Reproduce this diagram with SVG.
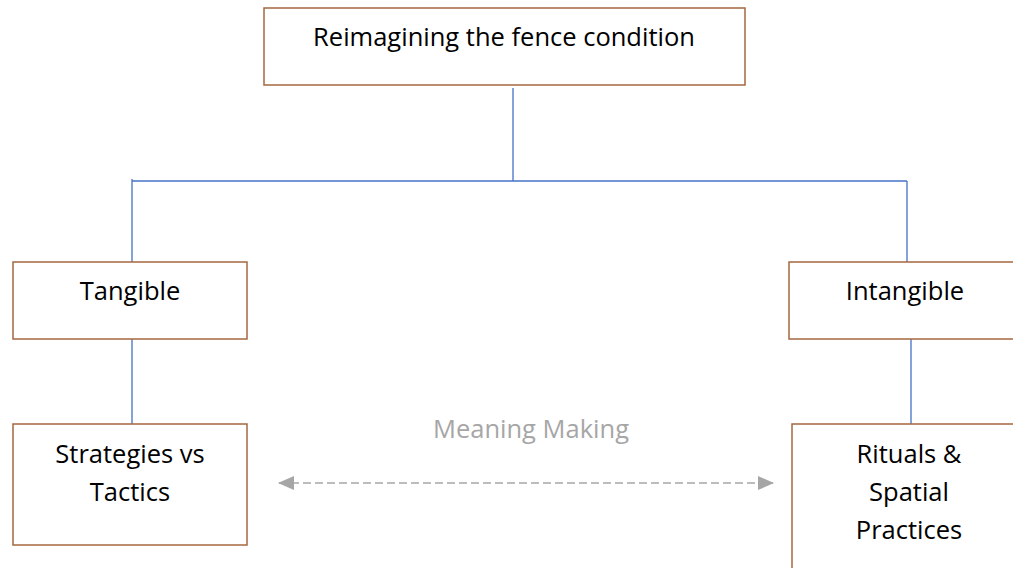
<svg xmlns="http://www.w3.org/2000/svg" width="1013" height="568" viewBox="0 0 1013 568">
<defs>
<style>
.box{fill:#fff;stroke:#A5683F;stroke-width:1.5}
.t{font-family:"Open Sans","Noto Sans",sans-serif;font-size:25.5px;fill:#000;text-anchor:middle}
.c{stroke:#4472C4;stroke-width:1.3;fill:none}
.mm{font-family:"Open Sans","Noto Sans",sans-serif;font-size:25.5px;fill:#A6A6A6;text-anchor:middle}
.ar{stroke:#A6A6A6;stroke-width:1.5;stroke-dasharray:8 4;fill:none}
</style>
<marker id="ah" viewBox="0 0 16 14" refX="15" refY="7" markerWidth="16" markerHeight="14" markerUnits="userSpaceOnUse" orient="auto-start-reverse">
<path d="M0,0 L16,7 L0,14 Z" fill="#A6A6A6"/>
</marker>
</defs>
<rect width="1013" height="568" fill="#fff"/>
<g id="connectors">
<path class="c" d="M513,88 V181"/>
<path class="c" d="M132,181 H907"/>
<path class="c" d="M132,179 V262"/>
<path class="c" d="M907,181 V262"/>
<path class="c" d="M132,339 V424"/>
<path class="c" d="M911,339 V424"/>
<path class="ar" d="M279,483 H773" marker-start="url(#ah)" marker-end="url(#ah)"/>
</g>
<g id="node-top">
<rect class="box" x="264" y="8" width="481" height="77"/>
<text class="t" x="504" y="46">Reimagining the fence condition</text>
</g>
<g id="node-tangible">
<rect class="box" x="13" y="262" width="234" height="77"/>
<text class="t" x="130" y="300">Tangible</text>
</g>
<g id="node-intangible">
<rect class="box" x="789" y="262" width="240" height="77"/>
<text class="t" x="905" y="300">Intangible</text>
</g>
<g id="node-strategies">
<rect class="box" x="13" y="424" width="234" height="121"/>
<text class="t" x="130" y="463">Strategies vs</text>
<text class="t" x="130" y="501">Tactics</text>
</g>
<g id="node-rituals">
<rect class="box" x="792" y="424" width="240" height="160"/>
<text class="t" x="909" y="463">Rituals &amp;</text>
<text class="t" x="909" y="501">Spatial</text>
<text class="t" x="909" y="539">Practices</text>
</g>
<g id="label-meaning">
<text class="mm" x="531" y="438">Meaning Making</text>
</g>
</svg>
